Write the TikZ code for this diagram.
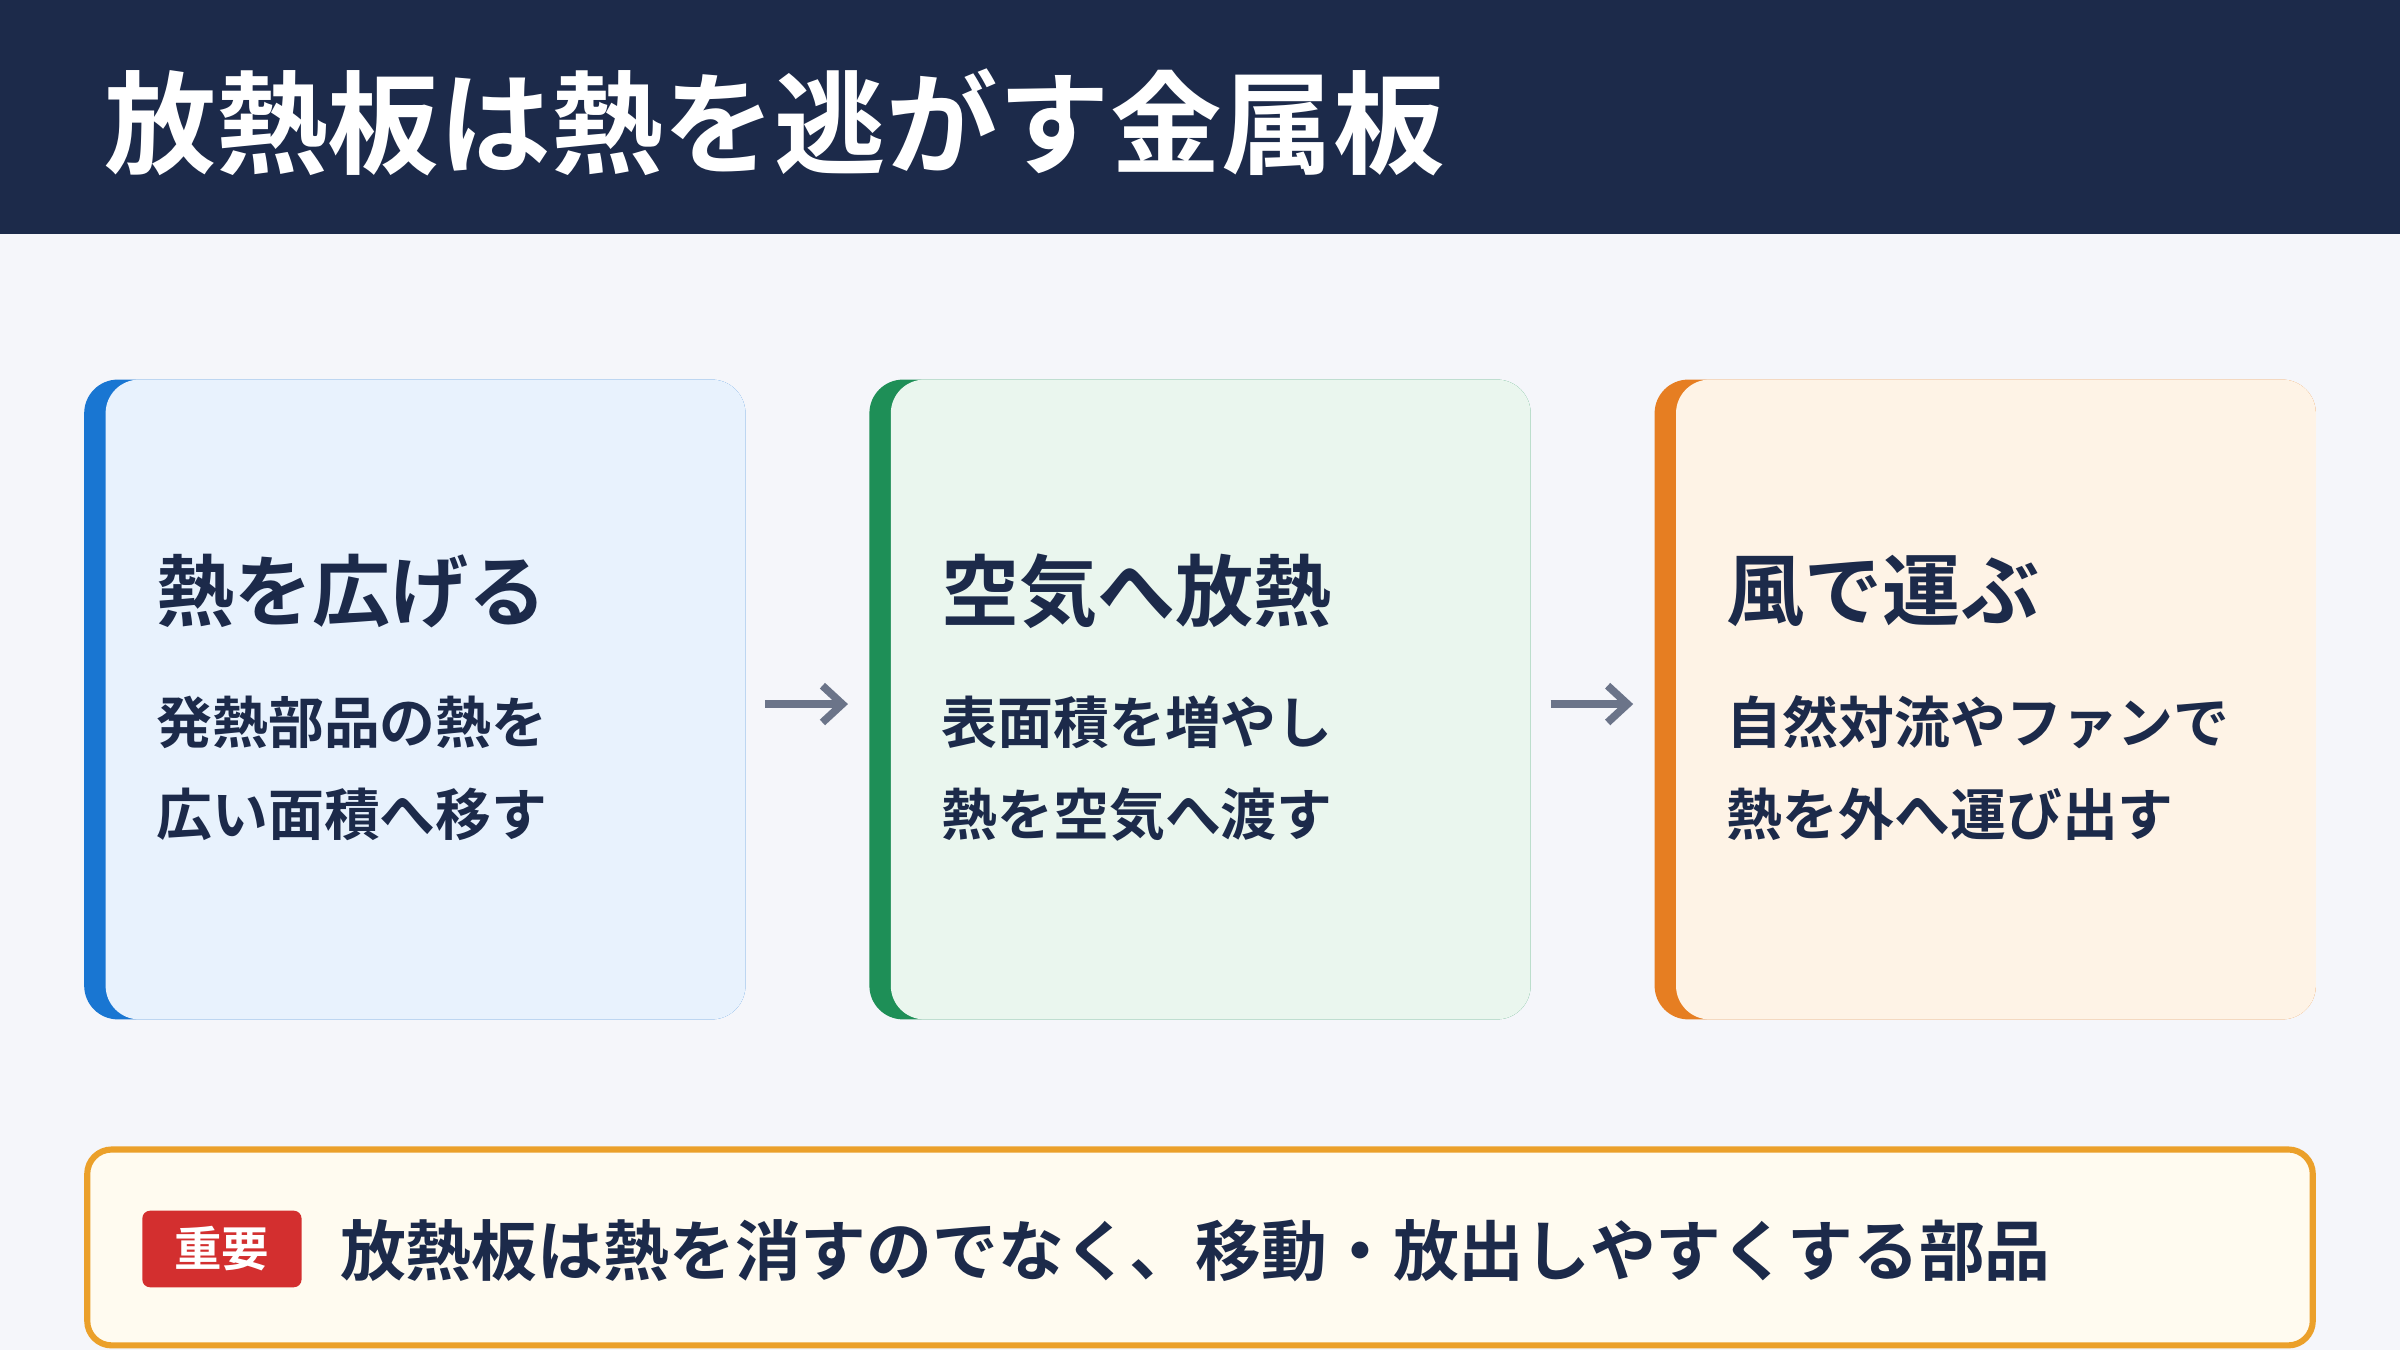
\documentclass[tikz,border=0pt]{standalone}
\usepackage{fontspec}
\setmainfont{Noto Sans CJK JP}[BoldFont={Noto Sans CJK JP Bold}]
\definecolor{navy}{HTML}{1C2A4A}
\definecolor{bgc}{HTML}{F5F6FA}
\definecolor{ablue}{HTML}{1976D2}\definecolor{bblue}{HTML}{E8F2FD}
\definecolor{agreen}{HTML}{1E8F57}\definecolor{bgreen}{HTML}{EAF6EE}
\definecolor{aorange}{HTML}{E67E22}\definecolor{borange}{HTML}{FEF3E6}
\definecolor{arrowc}{HTML}{6B7489}
\definecolor{noteb}{HTML}{EBA02A}\definecolor{notef}{HTML}{FFFBF0}
\definecolor{badge}{HTML}{D32F2F}
\usetikzlibrary{arrows.meta}
\tikzset{
 ttl/.style={anchor=west,text=navy,font=\fontsize{51}{58}\selectfont\bfseries,inner sep=0},
 body/.style={anchor=west,text=navy,font=\fontsize{36.5}{42}\selectfont\bfseries,inner sep=0},
 arr/.style={draw=arrowc,line width=5pt,-{Straight Barb[length=13pt,width=24pt,line width=5pt]}}
}
\begin{document}
\begin{tikzpicture}[x=1pt,y=-1pt]
\useasboundingbox (0,0) rectangle (1568,882);
\fill[bgc] (0,0) rectangle (1568,882);
\fill[navy] (0,0) rectangle (1568,153);
\node[anchor=west,text=white,font=\fontsize{73}{82}\selectfont\bfseries,inner sep=0] (title) at (68,80) {放熱板は熱を逃がす金属板};
\foreach \x/\a/\b/\n in {55/ablue/bblue/c1,568/agreen/bgreen/c2,1081/aorange/borange/c3}{
 \fill[\a,rounded corners=22] (\x,248) rectangle ++(432,418);
 \fill[\b,rounded corners=22] (\x+14,248) rectangle (\x+432,666);
}
\node[ttl] (t1) at (102,386) {熱を広げる};
\node[body] (b1a) at (102,472) {発熱部品の熱を};
\node[body] (b1b) at (102,532) {広い面積へ移す};
\node[ttl] (t2) at (615,386) {空気へ放熱};
\node[body] (b2a) at (615,472) {表面積を増やし};
\node[body] (b2b) at (615,532) {熱を空気へ渡す};
\node[ttl] (t3) at (1128,386) {風で運ぶ};
\node[body] (b3a) at (1128,472) {自然対流やファンで};
\node[body] (b3b) at (1128,532) {熱を外へ運び出す};
\coordinate (a1s) at (500,460); \coordinate (a1e) at (554,460);
\coordinate (a2s) at (1013,460); \coordinate (a2e) at (1067,460);
\draw[arr] (a1s) -- (a1e);
\draw[arr] (a2s) -- (a2e);
\draw[draw=noteb,fill=notef,line width=4pt,rounded corners=16] (57,751) rectangle (1511,879);
\node[fill=badge,rounded corners=5,minimum width=104,minimum height=50,text=white,font=\fontsize{31}{36}\selectfont\bfseries,inner sep=0] (bd) at (145,816) {重要};
\node[anchor=west,text=navy,font=\fontsize{43}{50}\selectfont\bfseries,inner sep=0] (note) at (222,817) {放熱板は熱を消すのでなく、移動・放出しやすくする部品};
\end{tikzpicture}
\end{document}
